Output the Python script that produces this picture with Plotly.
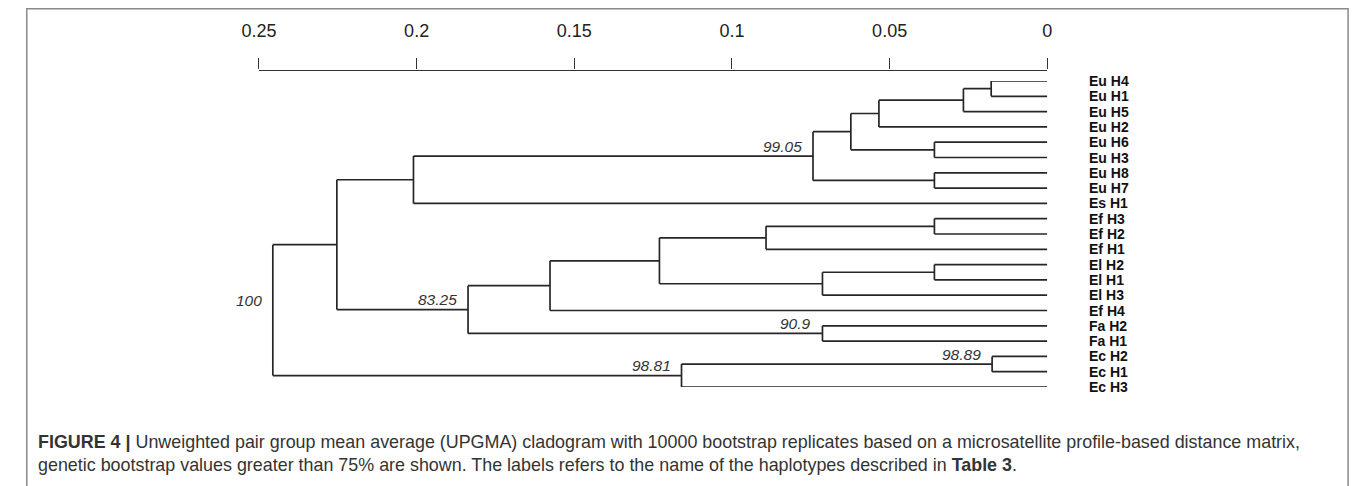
import plotly.graph_objects as go

# page body has an 8px margin: the figure is placed at (8, 8) on screen
OFF = 8
FW, FH = 1350, 478


def px(x):  # screen x -> paper fraction
    return (x - OFF) / FW


def py(y):  # screen y -> paper fraction
    return 1 - (y - OFF) / FH


# ---- data ----
leaves = ["Eu H4", "Eu H1", "Eu H5", "Eu H2", "Eu H6", "Eu H3", "Eu H8", "Eu H7",
          "Es H1", "Ef H3", "Ef H2", "Ef H1", "El H2", "El H1", "El H3", "Ef H4",
          "Fa H2", "Fa H1", "Ec H2", "Ec H1", "Ec H3"]

# internal nodes numbered from len(leaves) upward, in this order
merge_left = [0, 21, 22, 4, 23, 6, 25, 27, 9, 29, 12, 31, 30, 33, 16, 34, 28, 18, 38, 37]
merge_right = [1, 2, 3, 5, 24, 7, 26, 8, 10, 11, 13, 14, 32, 15, 17, 35, 36, 19, 20, 39]
merge_height = [0.0178, 0.0266, 0.0534, 0.0358, 0.0623, 0.0358, 0.0743, 0.2010,
                0.0358, 0.0892, 0.0358, 0.0713, 0.1230, 0.1577, 0.0713, 0.1837,
                0.2253, 0.0175, 0.1160, 0.2456]
merge_support = ["", "", "", "", "", "", "99.05", "", "", "", "", "", "", "",
                 "90.9", "83.25", "", "98.89", "98.81", "100"]

tick_vals = [0.25, 0.2, 0.15, 0.1, 0.05, 0]
tick_text = ["0.25", "0.2", "0.15", "0.1", "0.05", "0"]

# ---- tree geometry ----
n = len(leaves)
node_x = {i: 0.0 for i in range(n)}
node_y = {i: float(i) for i in range(n)}
xs, ys = [], []
for k, (a, b, h) in enumerate(zip(merge_left, merge_right, merge_height)):
    nid = n + k
    node_x[nid] = h
    node_y[nid] = (node_y[a] + node_y[b]) / 2
    xs += [h, h, None]
    ys += [node_y[a], node_y[b], None]
    for c in (a, b):
        xs += [h, node_x[c], None]
        ys += [node_y[c], node_y[c], None]

fig = go.Figure()
fig.add_trace(go.Scatter(x=xs, y=ys, mode="lines",
                         line=dict(color="#262626", width=1.7),
                         hoverinfo="skip", showlegend=False, cliponaxis=False))

FONT = "Liberation Sans, Arial, sans-serif"
ann = []
for i, name in enumerate(leaves):
    ann.append(dict(x=0, y=i, xref="x", yref="y", text=f"<b>{name}</b>",
                    showarrow=False, xanchor="left", yanchor="middle", xshift=40,
                    font=dict(family=FONT, size=14, color="#111")))
for k, s in enumerate(merge_support):
    if s:
        nid = n + k
        ann.append(dict(x=node_x[nid], y=node_y[nid], xref="x", yref="y",
                        text=f"<i>{s}</i>", showarrow=False, xanchor="right",
                        yanchor="middle", xshift=-9, yshift=10,
                        font=dict(family=FONT, size=15.5, color="#333")))

cap1 = ("<b>FIGURE 4 |</b> Unweighted pair group mean average (UPGMA) cladogram with 10000 "
        "bootstrap replicates based on a microsatellite profile-based distance matrix,")
cap2 = ("genetic bootstrap values greater than 75% are shown. The labels refers to the name "
        "of the haplotypes described in <b>Table 3</b>.")
for txt, ypx in ((cap1, 442), (cap2, 465)):
    ann.append(dict(x=px(18), y=py(ypx), xref="paper", yref="paper", text=txt,
                    showarrow=False, xanchor="left", yanchor="middle",
                    font=dict(family=FONT, size=17.9, color="#333")))

fig.update_layout(
    width=FW, height=FH, margin=dict(l=0, r=0, t=0, b=0),
    paper_bgcolor="white", plot_bgcolor="white",
    annotations=ann,
    shapes=[dict(type="rect", xref="paper", yref="paper",
                 x0=0.8 / FW, x1=px(1353), y0=-0.2, y1=1 - 0.8 / FH,
                 line=dict(color="#8a8a8a", width=1.5), fillcolor="rgba(0,0,0,0)")],
    xaxis=dict(range=[0.25, 0], domain=[px(245), px(1047)], side="top",
               anchor="free", position=py(69.5),
               tickvals=tick_vals, ticktext=tick_text, ticks="outside",
               ticklen=11, tickwidth=1.3, tickcolor="#333",
               showline=True, linecolor="#333", linewidth=1.3,
               showgrid=False, zeroline=False, ticklabelstandoff=14,
               tickfont=dict(family=FONT, size=18, color="#222")),
    yaxis=dict(range=[20, 0], domain=[py(387), py(81)], visible=False),
)

fig.write_html("out.html")
